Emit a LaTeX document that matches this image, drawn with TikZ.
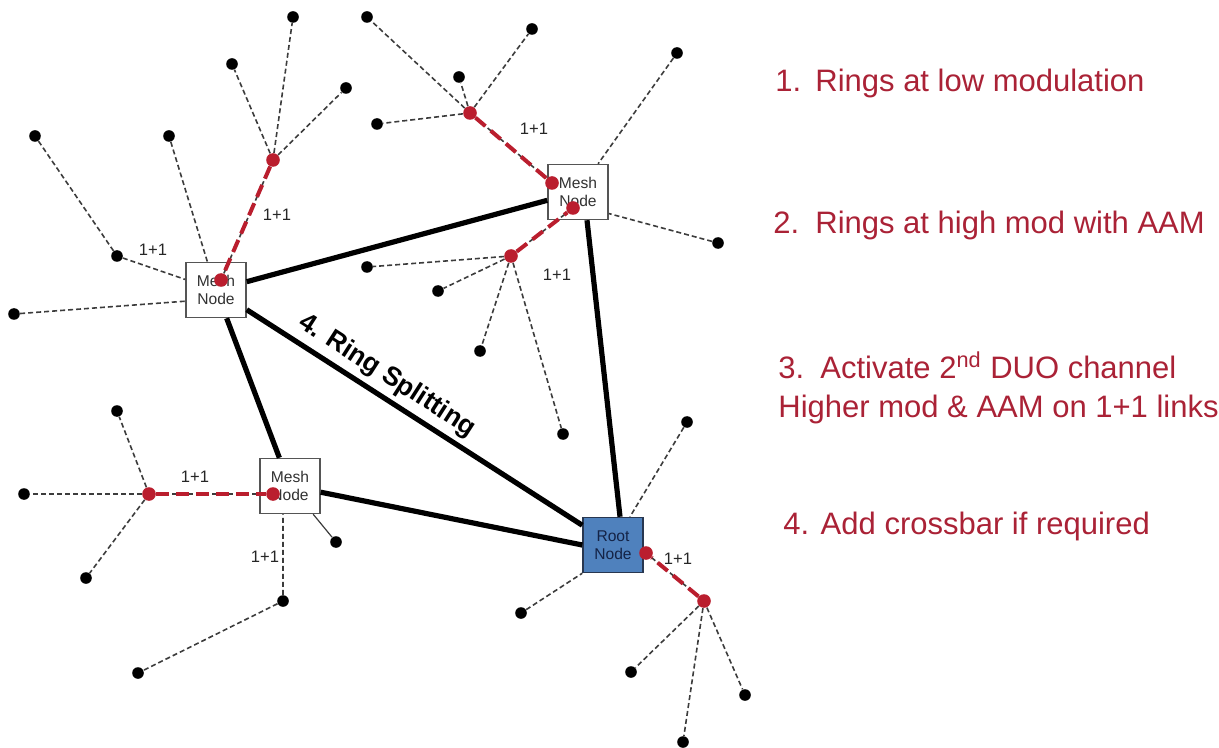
\documentclass[tikz,border=0pt]{standalone}
\usepackage{fontspec}
\setmainfont{Liberation Sans}
\definecolor{linkred}{RGB}{186,30,46}
\definecolor{notered}{RGB}{170,34,54}
\definecolor{spokegray}{RGB}{60,60,60}
\definecolor{boxgray}{RGB}{85,85,85}
\definecolor{meshtext}{RGB}{50,50,50}
\definecolor{rootblue}{RGB}{79,129,189}
\definecolor{rootedge}{RGB}{40,55,80}
\definecolor{roottext}{RGB}{20,35,70}
\begin{document}
\begin{tikzpicture}[x=0.5pt,y=-0.5pt,
  box/.style={draw=boxgray, line width=0.75pt, fill=white, minimum width=30pt,
    minimum height=27.5pt, inner sep=0pt, align=center,
    font=\fontsize{7.8}{9}\selectfont, text=meshtext},
  rootbox/.style={box, fill=rootblue, draw=rootedge, text=roottext},
  leaf/.style={circle, fill=black, inner sep=0pt, minimum size=5.8pt},
  hub/.style={circle, fill=linkred, inner sep=0pt, minimum size=6.8pt},
  spoke/.style={draw=spokegray, line width=0.8pt, dash pattern=on 2.5pt off 1.5pt},
  tail/.style={draw=spokegray, line width=0.6pt},
  trunk/.style={draw=black, line width=2.6pt},
  protect/.style={draw=linkred, line width=2pt, dash pattern=on 6.5pt off 3.5pt},
  tag/.style={font=\fontsize{8.3}{9}\selectfont, inner sep=0pt, text=black!85},
  note/.style={anchor=base west, text=notered, inner sep=0pt,
    font=\fontsize{15.5}{18}\selectfont}
]
\useasboundingbox (0,0) rectangle (1219,748);

% ring boxes
\node[box] (A) at (216,290) {Mesh\\Node};
\node[box] (B) at (578,192) {Mesh\\Node};
\node[box] (C) at (290,486) {Mesh\\Node};
\node[rootbox] (Root) at (613,545) {Root\\Node};

% ring trunks
\draw[trunk] (A) -- (B);
\draw[trunk] (A) -- (C);
\draw[trunk] (A) -- (Root);
\draw[trunk] ([xshift=4.5pt]B.south) -- ([xshift=3.5pt]Root.north);
\draw[trunk] (C) -- (Root.west);

% end stations
\foreach \n/\p in {a1/{(293,17)}, a2/{(232,64)}, a3/{(346,88)}, a4/{(169,136)},
  a5/{(117,256)}, a6/{(35,136)}, a7/{(14,314)},
  b1/{(367,17)}, b2/{(459,77)}, b3/{(532,29)}, b4/{(377,124)},
  b5/{(677,53)}, b6/{(718,243)},
  c1/{(367,267)}, c2/{(438,291)}, c3/{(480,351)}, c4/{(563,434)},
  d1/{(117,411)}, d2/{(24,494)}, d3/{(86,578)}, d4/{(336,542)},
  d5/{(283,601)}, d6/{(138,673)},
  e1/{(631,672)}, e2/{(745,695)}, e3/{(683,742)}, e4/{(687,422)}, e5/{(521,613)}}
  \node[leaf] (\n) at \p {};

% hubs and protected link ends
\foreach \n/\p in {h1/{(273,160)}, h2/{(470,113)}, h3/{(511,256)}, h4/{(149,494)},
  h5/{(704,601)}, pa/{(221,280)}, pb1/{(552,183)}, pb2/{(573,208)},
  pc/{(273,494)}, pr/{(646,553)}}
  \node[hub] (\n) at \p {};

% spokes
\foreach \u/\v in {h1/a1, h1/a2, h1/a3, a6/a5, h2/b1, h2/b2, h2/b3, h2/b4,
  h3/c1, h3/c2, h3/c3, h3/c4, h4/d1, h4/d2, h4/d3, d5/d6,
  h5/e1, h5/e2, h5/e3}
  \draw[spoke] (\u) -- (\v);
\draw[spoke] (a4) -- (A);
\draw[spoke] (a5) -- (A);
\draw[spoke] (a7) -- (A.200);
\draw[spoke] (b5) -- (B);
\draw[spoke] (b6) -- (B.-35);
\draw[spoke] (d5) -- (C.-104);
\draw[tail] (d4) -- (C);
\draw[spoke] (e4) -- (Root);
\draw[spoke] (e5) -- (Root.south west);

% 1+1 protected links
\foreach \u/\v in {h1/pa, h2/pb1, h3/pb2, h4/pc, h5/pr} {
  \draw[spoke] (\u) -- (\v);
  \draw[protect] (\u) -- (\v);
}

% link labels
\node[tag] (t1) at (153,250) {1+1};
\node[tag] (t2) at (277,215) {1+1};
\node[tag] (t3) at (534,129) {1+1};
\node[tag] (t4) at (557,275) {1+1};
\node[tag] (t5) at (195,477) {1+1};
\node[tag] (t6) at (265,557) {1+1};
\node[tag] (t7) at (678,559) {1+1};

\node[rotate=-32.7, inner sep=0pt, font=\bfseries\fontsize{13.3}{15}\selectfont]
  (split) at (387,376) {4. Ring Splitting};

% steps
\node[note] (n1) at (775,92) {\makebox[20pt][l]{1.}Rings at low modulation};
\node[note] (n2) at (773,234) {\makebox[21pt][l]{2.}Rings at high mod with AAM};
\node[note] (n3) at (778,378) {\makebox[21pt][l]{3.}Activate 2\textsuperscript{nd} DUO channel};
\node[note] (n3b) at (778,417) {Higher mod \& AAM on 1+1 links};
\node[note] (n4) at (783,534) {4. Add crossbar if required};
\end{tikzpicture}
\end{document}
